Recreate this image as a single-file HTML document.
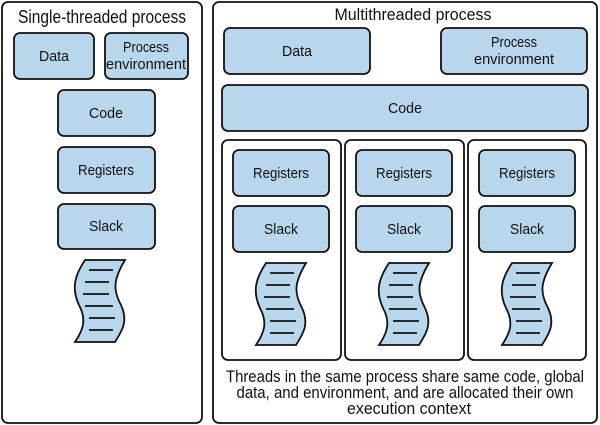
<!DOCTYPE html>
<html><head><meta charset="utf-8"><style>
html,body{margin:0;padding:0;background:#fff;}
svg{display:block;}
text{font-family:"Liberation Sans",sans-serif;fill:#111;}
</style></head><body>
<svg width="600" height="425" viewBox="0 0 600 425" xmlns="http://www.w3.org/2000/svg">
<defs>
<g id="scroll">
<path d="M12,0 L52,0 C40,20 40,30 48,45 C56,62 48,72 42,82 L2,82 C10,70 14,60 6,45 C-2,28 2,15 12,0 Z" fill="#b9d7ec" stroke="#111" stroke-width="1.8"/>
<g stroke="#111" stroke-width="1.8">
<line x1="16" y1="10" x2="40" y2="10"/><line x1="12" y1="22" x2="36" y2="22"/>
<line x1="10" y1="34" x2="36" y2="34"/><line x1="12" y1="46" x2="40" y2="46"/>
<line x1="16" y1="58" x2="42" y2="58"/><line x1="16" y1="70" x2="40" y2="70"/>
</g>
</g>
</defs>
<g fill="none" stroke="#111" stroke-width="1.8">
<rect x="2" y="2" width="200" height="421" rx="6"/>
<rect x="213" y="2" width="384" height="421" rx="6"/>
<rect x="222" y="140" width="119" height="220" rx="6"/>
<rect x="345" y="140" width="119" height="220" rx="6"/>
<rect x="468" y="140" width="118" height="220" rx="6"/>
</g>
<g fill="#b9d7ec" stroke="#111" stroke-width="1.8">
<rect x="14" y="33" width="80" height="46" rx="6"/>
<rect x="105" y="33" width="83" height="46" rx="6"/>
<rect x="58" y="90" width="97" height="46" rx="6"/>
<rect x="58" y="147" width="97" height="46" rx="6"/>
<rect x="58" y="204" width="97" height="45" rx="6"/>
<rect x="224" y="28" width="146" height="46" rx="6"/>
<rect x="441" y="28" width="146" height="46" rx="6"/>
<rect x="222" y="85" width="366" height="46" rx="6"/>
<rect x="233" y="150" width="96" height="46" rx="6"/>
<rect x="233" y="206" width="96" height="46" rx="6"/>
<rect x="356" y="150" width="96" height="46" rx="6"/>
<rect x="356" y="206" width="96" height="46" rx="6"/>
<rect x="479" y="150" width="96" height="46" rx="6"/>
<rect x="479" y="206" width="96" height="46" rx="6"/>
</g>
<use href="#scroll" x="73" y="260"/>
<use href="#scroll" x="254" y="263"/>
<use href="#scroll" x="377" y="263"/>
<use href="#scroll" x="500" y="263"/>
<g font-size="15" text-anchor="middle" lengthAdjust="spacingAndGlyphs">
<text x="102" y="23" font-size="18" textLength="168" lengthAdjust="spacingAndGlyphs">Single-threaded process</text>
<text x="54" y="61" textLength="30" lengthAdjust="spacingAndGlyphs">Data</text>
<text x="146" y="52" textLength="46" lengthAdjust="spacingAndGlyphs">Process</text>
<text x="146" y="69" textLength="80" lengthAdjust="spacingAndGlyphs">environment</text>
<text x="106" y="118" textLength="34" lengthAdjust="spacingAndGlyphs">Code</text>
<text x="106" y="175" textLength="56" lengthAdjust="spacingAndGlyphs">Registers</text>
<text x="106" y="231" textLength="34" lengthAdjust="spacingAndGlyphs">Slack</text>
<text x="413" y="20" font-size="17" textLength="157" lengthAdjust="spacingAndGlyphs">Multithreaded process</text>
<text x="297" y="56" textLength="30" lengthAdjust="spacingAndGlyphs">Data</text>
<text x="514" y="47" textLength="46" lengthAdjust="spacingAndGlyphs">Process</text>
<text x="514" y="64" textLength="80" lengthAdjust="spacingAndGlyphs">environment</text>
<text x="405" y="113" textLength="34" lengthAdjust="spacingAndGlyphs">Code</text>
<text x="281" y="178" textLength="56" lengthAdjust="spacingAndGlyphs">Registers</text>
<text x="281" y="234" textLength="34" lengthAdjust="spacingAndGlyphs">Slack</text>
<text x="404" y="178" textLength="56" lengthAdjust="spacingAndGlyphs">Registers</text>
<text x="404" y="234" textLength="34" lengthAdjust="spacingAndGlyphs">Slack</text>
<text x="527" y="178" textLength="56" lengthAdjust="spacingAndGlyphs">Registers</text>
<text x="527" y="234" textLength="34" lengthAdjust="spacingAndGlyphs">Slack</text>
<text x="405" y="382" font-size="17" textLength="358" lengthAdjust="spacingAndGlyphs">Threads in the same process share same code, global</text>
<text x="405" y="398" font-size="17" textLength="337" lengthAdjust="spacingAndGlyphs">data, and environment, and are allocated their own</text>
<text x="409" y="414" font-size="17" textLength="124" lengthAdjust="spacingAndGlyphs">execution context</text>
</g>
</svg>
</body></html>
